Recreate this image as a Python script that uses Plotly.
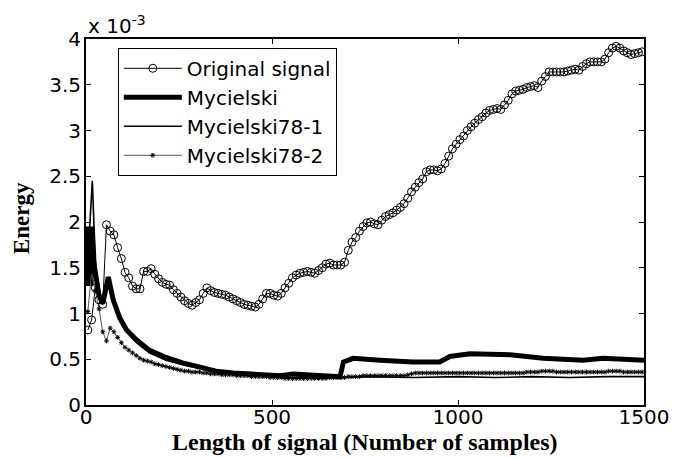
import plotly.graph_objects as go

# ---------------- data (values in units of 1e-3) ----------------
orig_x = [5 + 10 * k for k in range(150)]
orig_y = [0.82, 0.93, 1.28, 1.15, 1.10, 1.97, 1.90, 1.86, 1.72, 1.60,
          1.45, 1.39, 1.30, 1.27, 1.27, 1.46, 1.46, 1.49, 1.43, 1.38,
          1.34, 1.32, 1.31, 1.26, 1.22, 1.18, 1.14, 1.11, 1.09, 1.12,
          1.15, 1.22, 1.28, 1.25, 1.23, 1.22, 1.21, 1.20, 1.18, 1.16,
          1.14, 1.12, 1.10, 1.09, 1.08, 1.07, 1.10, 1.16, 1.22, 1.22,
          1.20, 1.19, 1.22, 1.28, 1.33, 1.39, 1.42, 1.44, 1.45, 1.46,
          1.45, 1.44, 1.47, 1.50, 1.54, 1.55, 1.53, 1.53, 1.53, 1.56,
          1.69, 1.78, 1.83, 1.90, 1.95, 1.99, 2.00, 1.98, 1.97, 2.02,
          2.06, 2.08, 2.10, 2.13, 2.16, 2.20, 2.26, 2.33, 2.38, 2.43,
          2.47, 2.55, 2.57, 2.57, 2.56, 2.58, 2.64, 2.72, 2.80, 2.85,
          2.90, 2.94, 3.00, 3.04, 3.08, 3.12, 3.15, 3.19, 3.22, 3.23,
          3.24, 3.23, 3.28, 3.33, 3.40, 3.43, 3.44, 3.45, 3.47, 3.48,
          3.49, 3.47, 3.54, 3.59, 3.64, 3.64, 3.64, 3.64, 3.64, 3.65,
          3.66, 3.67, 3.66, 3.70, 3.73, 3.75, 3.75, 3.75, 3.75, 3.78,
          3.85, 3.90, 3.92, 3.90, 3.87, 3.85, 3.83, 3.84, 3.85, 3.86]

myc_x = [1, 4, 7, 10, 13, 16, 19, 25, 35, 45, 52, 60, 73, 91, 109, 136, 170,
         215, 260, 305, 350, 396, 441, 485, 522, 557, 611, 683, 692, 718,
         790, 879, 951, 978, 1032, 1059, 1140, 1229, 1336, 1390, 1500]
myc_y = [1.30, 1.95, 1.30, 1.95, 1.30, 1.95, 1.60, 1.45, 1.20, 1.11, 1.25,
         1.40, 1.15, 0.95, 0.82, 0.71, 0.60, 0.52, 0.46, 0.42, 0.37, 0.35,
         0.34, 0.32, 0.32, 0.34, 0.33, 0.31, 0.47, 0.51, 0.49, 0.47, 0.47,
         0.53, 0.56, 0.56, 0.55, 0.51, 0.49, 0.51, 0.49]

m781_x = [1, 5, 10, 17, 22, 28, 35, 45, 52, 60, 70, 80, 90, 110, 136, 170,
          215, 260, 305, 350, 396, 441, 485, 522, 600, 690, 760, 880, 1000,
          1100, 1200, 1300, 1400, 1500]
m781_y = [1.30, 1.60, 2.00, 2.45, 1.90, 1.40, 1.20, 1.10, 1.20, 1.36, 1.25,
          1.10, 0.96, 0.80, 0.68, 0.57, 0.49, 0.44, 0.40, 0.36, 0.34, 0.33,
          0.31, 0.30, 0.30, 0.30, 0.31, 0.30, 0.31, 0.30, 0.31, 0.30, 0.31,
          0.31]

m782_x = [5 + 10 * k for k in range(150)]
m782_y = [1.02, 1.45, 1.25, 1.05, 0.80, 0.70, 0.84, 0.80, 0.74, 0.68,
          0.63, 0.60, 0.57, 0.54, 0.51, 0.49, 0.48, 0.47, 0.45, 0.44,
          0.43, 0.42, 0.41, 0.40, 0.39, 0.38, 0.37, 0.37, 0.36, 0.36,
          0.36, 0.35, 0.35, 0.34, 0.34, 0.34, 0.33, 0.33, 0.33, 0.33,
          0.32, 0.32, 0.32, 0.32, 0.31, 0.31, 0.31, 0.31, 0.31, 0.30,
          0.30, 0.30, 0.30, 0.29, 0.29, 0.29, 0.29, 0.29, 0.29, 0.29,
          0.29, 0.29, 0.29, 0.29, 0.29, 0.30, 0.30, 0.30, 0.30, 0.30,
          0.31, 0.31, 0.31, 0.31, 0.32, 0.32, 0.32, 0.32, 0.32, 0.32,
          0.32, 0.32, 0.32, 0.32, 0.32, 0.32, 0.33, 0.34, 0.35, 0.35,
          0.35, 0.35, 0.35, 0.35, 0.35, 0.35, 0.35, 0.35, 0.35, 0.35,
          0.35, 0.35, 0.35, 0.35, 0.35, 0.35, 0.35, 0.35, 0.35, 0.35,
          0.35, 0.35, 0.35, 0.35, 0.35, 0.35, 0.35, 0.35, 0.36, 0.36,
          0.36, 0.36, 0.37, 0.37, 0.37, 0.37, 0.36, 0.36, 0.36, 0.36,
          0.36, 0.36, 0.36, 0.36, 0.36, 0.36, 0.36, 0.36, 0.36, 0.36,
          0.37, 0.37, 0.37, 0.37, 0.36, 0.36, 0.36, 0.36, 0.36, 0.36]

x_ticks = [0, 500, 1000, 1500]
y_ticks = [0, 0.5, 1, 1.5, 2, 2.5, 3, 3.5, 4]
y_tick_labels = ["0", "0.5", "1", "1.5", "2", "2.5", "3", "3.5", "4"]

names = ["Original signal", "Mycielski", "Mycielski78-1", "Mycielski78-2"]
x_title = "Length of signal (Number of samples)"
y_title = "Energy"

# ---------------- figure ----------------
fig = go.Figure()
fig.add_trace(go.Scatter(x=myc_x, y=myc_y, name=names[1], mode="lines",
                         line=dict(color="black", width=5), legendrank=2))
fig.add_trace(go.Scatter(x=m781_x, y=m781_y, name=names[2], mode="lines",
                         line=dict(color="black", width=1.6), legendrank=3))
fig.add_trace(go.Scatter(x=m782_x, y=m782_y, name=names[3], mode="lines+markers",
                         line=dict(color="#555555", width=1),
                         marker=dict(symbol="asterisk", size=4, color="black",
                                     line=dict(color="black", width=1)),
                         legendrank=4))
fig.add_trace(go.Scatter(x=orig_x, y=orig_y, name=names[0], mode="lines+markers",
                         line=dict(color="black", width=1),
                         marker=dict(symbol="circle-open", size=8, color="black",
                                     line=dict(width=1)),
                         legendrank=1))

sans = "DejaVu Sans, Arial"
tick_font = dict(family=sans, size=20, color="black")
axis_common = dict(showline=True, linecolor="black", linewidth=2, mirror="ticks",
                   ticks="inside", ticklen=5, tickcolor="black", tickwidth=1,
                   showgrid=False, zeroline=False, automargin=False,
                   tickfont=tick_font)

fig.update_xaxes(range=[0, 1500], tickvals=x_ticks, ticktext=[str(v) for v in x_ticks],
                 ticklabelstandoff=-7, **axis_common)
fig.update_yaxes(range=[0, 4], tickvals=y_ticks, ticktext=y_tick_labels,
                 ticklabelstandoff=-1, **axis_common)

fig.add_annotation(xref="paper", yref="paper", x=0.5, y=-0.1, xanchor="center",
                   yanchor="middle", showarrow=False, text="<b>" + x_title + "</b>",
                   font=dict(family="Liberation Serif, Times New Roman", size=24,
                             color="black"))
fig.add_annotation(xref="paper", yref="paper", x=-0.115, y=0.51, xanchor="center",
                   yanchor="middle", showarrow=False, text="<b>" + y_title + "</b>",
                   textangle=-90,
                   font=dict(family="Liberation Serif, Times New Roman", size=23,
                             color="black"))
fig.add_annotation(xref="paper", yref="paper", x=0.0, y=1.0, xanchor="left",
                   yanchor="bottom", showarrow=False, yshift=-1,
                   text="x 10<sup>-3</sup>",
                   font=dict(family=sans, size=20, color="black"))

# the page body adds an 8 px margin, so the figure is 8 px smaller on each axis
fig.update_layout(
    width=679, height=449,
    margin=dict(l=78, r=43, t=31, b=52, autoexpand=False),
    paper_bgcolor="white", plot_bgcolor="white",
    showlegend=True,
    legend=dict(x=0.057, y=0.976, xanchor="left", yanchor="top",
                bgcolor="white", bordercolor="black", borderwidth=1,
                font=dict(family=sans, size=20, color="black"),
                tracegroupgap=0, itemwidth=58),
)

fig.write_html("out.html")
